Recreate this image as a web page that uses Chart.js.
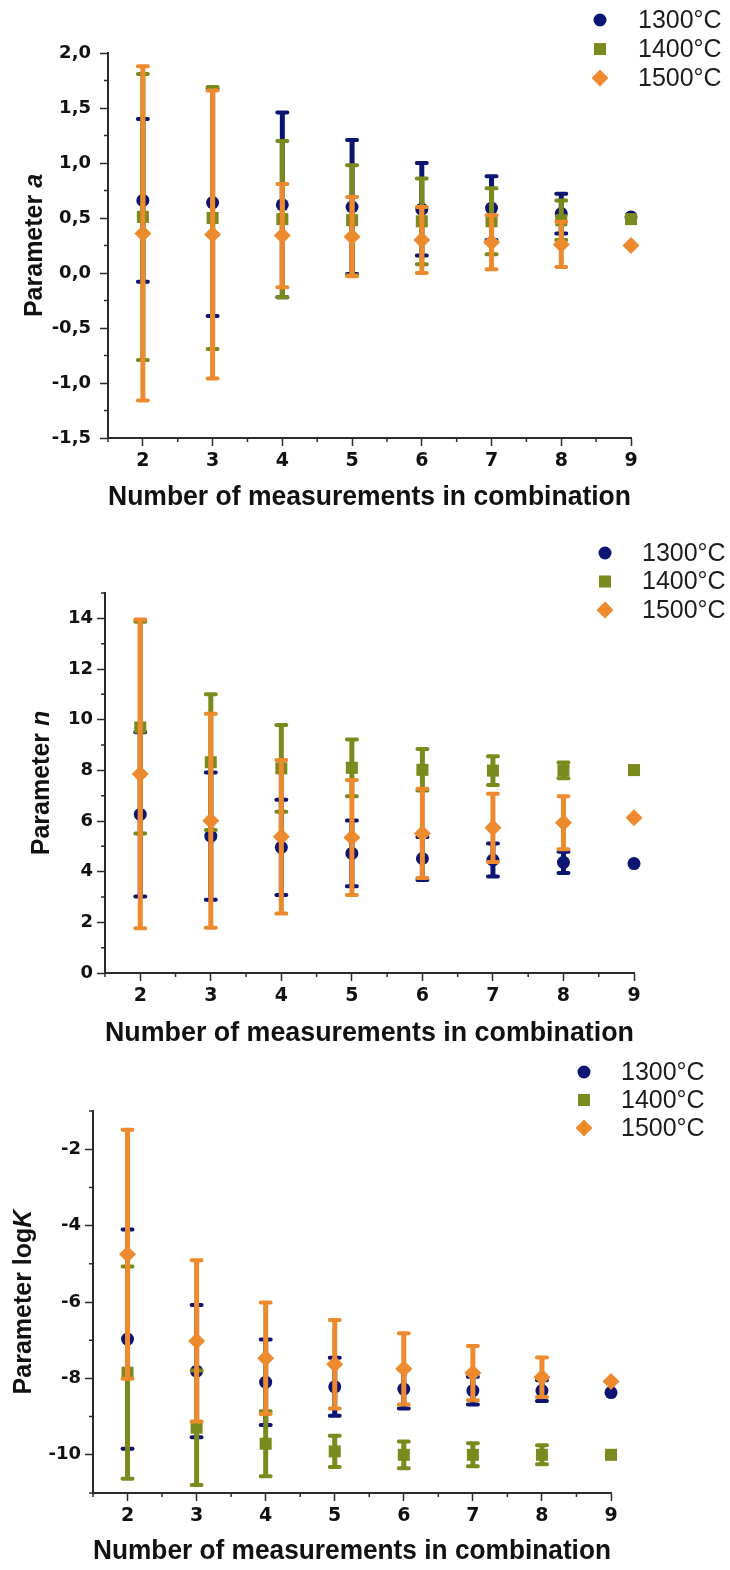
<!DOCTYPE html>
<html>
<head>
<meta charset="utf-8">
<script src="https://cdn.jsdelivr.net/npm/chart.js@4.4.1/dist/chart.umd.min.js"></script>
<style>
  html, body { margin: 0; padding: 0; background: #fff; }
  body { width: 730px; height: 1570px; position: relative; overflow: hidden; }
  .panel { position: absolute; left: 0; width: 730px; }
  #panelA { top: 0; height: 515px; }
  #panelN { top: 515px; height: 535px; }
  #panelK { top: 1050px; height: 520px; }
</style>
</head>
<body>
<div class="panel" id="panelA"><canvas id="chartA"></canvas></div>
<div class="panel" id="panelN"><canvas id="chartN"></canvas></div>
<div class="panel" id="panelK"><canvas id="chartK"></canvas></div>

<script>
// number of measurements used in each fitted combination
const measurementCounts = [2, 3, 4, 5, 6, 7, 8, 9];
const seriesLabels = ['1300°C', '1400°C', '1500°C'];

// Parameter a (mean and half-width of the error bar)
const a1300 = [0.66, 0.64, 0.62, 0.60, 0.58, 0.59, 0.54, 0.51];
const a1300Err = [0.74, 1.03, 0.84, 0.61, 0.42, 0.29, 0.18, 0];
const a1400 = [0.51, 0.50, 0.49, 0.48, 0.47, 0.47, 0.48, 0.49];
const a1400Err = [1.30, 1.19, 0.71, 0.50, 0.39, 0.30, 0.18, 0];
const a1500 = [0.36, 0.35, 0.34, 0.33, 0.30, 0.28, 0.26, 0.25];
const a1500Err = [1.52, 1.31, 0.47, 0.36, 0.30, 0.245, 0.205, 0];

// Parameter n
const n1300 = [6.26, 5.40, 4.96, 4.72, 4.52, 4.46, 4.37, 4.32];
const n1300Err = [3.24, 2.51, 1.88, 1.30, 0.85, 0.65, 0.42, 0];
const n1400 = [9.69, 8.32, 8.08, 8.10, 8.02, 7.99, 8.00, 8.01];
const n1400Err = [4.18, 2.68, 1.71, 1.12, 0.82, 0.57, 0.31, 0];
const n1500 = [7.86, 6.01, 5.38, 5.35, 5.51, 5.73, 5.93, 6.13];
const n1500Err = [6.09, 4.22, 3.03, 2.27, 1.76, 1.35, 1.05, 0];

// Parameter logK
const k1300 = [-6.97, -7.81, -8.10, -8.22, -8.28, -8.32, -8.32, -8.37];
const k1300Err = [2.87, 1.73, 1.12, 0.76, 0.51, 0.36, 0.27, 0];
const k1400 = [-7.85, -9.29, -9.71, -9.91, -10.0, -10.0, -10.0, -10.0];
const k1400Err = [2.78, 1.50, 0.85, 0.41, 0.35, 0.30, 0.25, 0];
const k1500 = [-4.75, -7.02, -7.47, -7.63, -7.75, -7.86, -7.97, -8.08];
const k1500Err = [3.26, 2.11, 1.46, 1.16, 0.93, 0.71, 0.52, 0];

const AXIS = '#2b2b2b';
const TEXT = '#111';
const FONT = '"Liberation Sans", Arial, sans-serif';
const TICK_FONT = '"DejaVu Sans", sans-serif';

const seriesStyle = [
    { color: '#0c1572', pointStyle: 'circle', radius: 6.5 },
    { color: '#7b8a1d', pointStyle: 'rect', radius: 8.5 },
    { color: '#ee8a2e', pointStyle: 'rectRot', radius: 8.5 }
];

function makeSet(i, means, errs) {
    const st = seriesStyle[i];
    return {
        label: seriesLabels[i],
        data: measurementCounts.map((x, j) => ({ x: x, y: means[j] })),
        errors: errs,
        backgroundColor: st.color,
        borderColor: st.color,
        borderWidth: 0,
        pointStyle: st.pointStyle,
        pointRadius: st.radius,
        order: 3 - i,   // later temperatures are painted on top
        clip: false
    };
}

// vertical error bars, drawn right before each dataset's markers
const errorBars = {
    id: 'errorBars',
    beforeDatasetDraw(chart, args) {
        const ds = chart.data.datasets[args.index];
        if (!ds.errors) return;
        const xs = chart.scales.x, ys = chart.scales.y, ctx = chart.ctx;
        ctx.save();
        ctx.strokeStyle = ds.backgroundColor;
        ds.data.forEach((pt, i) => {
            const e = ds.errors[i];
            if (!e) return;
            const px = xs.getPixelForValue(pt.x);
            const top = ys.getPixelForValue(pt.y + e);
            const bot = ys.getPixelForValue(pt.y - e);
            ctx.lineWidth = 5;
            ctx.lineCap = 'butt';
            ctx.beginPath();
            ctx.moveTo(px, top);
            ctx.lineTo(px, bot);
            ctx.stroke();
            ctx.lineWidth = 4;
            ctx.lineCap = 'round';
            ctx.beginPath();
            ctx.moveTo(px - 5, top); ctx.lineTo(px + 5, top);
            ctx.moveTo(px - 5, bot); ctx.lineTo(px + 5, bot);
            ctx.stroke();
        });
        ctx.restore();
    }
};

// short unlabelled ticks between the major ones
const minorTicks = {
    id: 'minorTicks',
    afterDraw(chart, args, opts) {
        const { ctx, chartArea } = chart;
        ctx.save();
        ctx.strokeStyle = AXIS;
        ctx.lineWidth = 1.5;
        ctx.beginPath();
        ['x', 'y'].forEach(id => {
            const scale = chart.scales[id];
            const step = opts[id];
            const majors = scale.ticks.map(t => t.value);
            const n = Math.round((scale.max - scale.min) / step);
            for (let k = 0; k <= n; k++) {
                const v = scale.min + k * step;
                if (majors.some(m => Math.abs(m - v) < step / 10)) continue;
                const p = scale.getPixelForValue(v);
                if (id === 'x') {
                    ctx.moveTo(p, chartArea.bottom);
                    ctx.lineTo(p, chartArea.bottom + 4);
                } else {
                    ctx.moveTo(chartArea.left, p);
                    ctx.lineTo(chartArea.left - 4, p);
                }
            }
        });
        ctx.stroke();
        ctx.restore();
    }
};

function markerPath(ctx, style, x, y, r) {
    ctx.beginPath();
    if (style === 'circle') {
        ctx.arc(x, y, r, 0, Math.PI * 2);
    } else if (style === 'rect') {
        const h = r * Math.SQRT1_2;
        ctx.rect(x - h, y - h, 2 * h, 2 * h);
    } else {
        ctx.moveTo(x, y - r);
        ctx.lineTo(x + r, y);
        ctx.lineTo(x, y + r);
        ctx.lineTo(x - r, y);
        ctx.closePath();
    }
}

// stacked legend in the top right corner
const sideLegend = {
    id: 'sideLegend',
    afterDraw(chart, args, opts) {
        const ctx = chart.ctx;
        ctx.save();
        ctx.font = '25px ' + FONT;
        ctx.textBaseline = 'middle';
        ctx.textAlign = 'left';
        chart.data.datasets.forEach((ds, i) => {
            const y = opts.top + i * opts.gap;
            ctx.fillStyle = ds.backgroundColor;
            markerPath(ctx, ds.pointStyle, opts.markerX, y, ds.pointRadius);
            ctx.fill();
            ctx.fillStyle = '#1c1c1c';
            ctx.fillText(ds.label, opts.textX, y + 1);
        });
        ctx.restore();
    }
};

// rotated y title with an italic symbol at the end
const axisTitleY = {
    id: 'axisTitleY',
    afterDraw(chart, args, opts) {
        const { ctx, chartArea } = chart;
        const plain = 'bold 25px ' + FONT;
        const ital = 'italic bold 25px ' + FONT;
        ctx.save();
        ctx.translate(opts.x, (chartArea.top + chartArea.bottom) / 2);
        ctx.rotate(-Math.PI / 2);
        ctx.fillStyle = TEXT;
        ctx.textBaseline = 'middle';
        ctx.textAlign = 'left';
        ctx.font = plain;
        const w1 = ctx.measureText(opts.text).width;
        ctx.font = ital;
        const w2 = ctx.measureText(opts.symbol).width;
        const x0 = -(w1 + w2) / 2;
        ctx.font = plain;
        ctx.fillText(opts.text, x0, 0);
        ctx.font = ital;
        ctx.fillText(opts.symbol, x0 + w1, 0);
        ctx.restore();
    }
};

// labelled ticks at every multiple of the step inside the axis range
const majorTicks = step => scale => {
    const ticks = [];
    const first = Math.ceil(scale.min / step - 1e-9);
    const last = Math.floor(scale.max / step + 1e-9);
    for (let k = first; k <= last; k++) {
        ticks.push({ value: +(k * step).toFixed(6) });
    }
    scale.ticks = ticks;
};

function buildChart(id, p) {
    return new Chart(document.getElementById(id), {
        type: 'scatter',
        data: { datasets: p.datasets },
        plugins: [errorBars, minorTicks, sideLegend, axisTitleY],
        options: {
            responsive: true,
            maintainAspectRatio: false,
            animation: false,
            layout: { padding: { left: 0, top: p.area.top, right: 730 - p.area.right, bottom: 0 } },
            scales: {
                x: {
                    type: 'linear',
                    min: 1.5,
                    max: 9,
                    afterBuildTicks: majorTicks(1),
                    afterFit: s => { s.height = p.height - p.area.bottom; },
                    ticks: { padding: 4, color: TEXT, font: { family: TICK_FONT, size: 19, weight: 'bold' } },
                    grid: { drawOnChartArea: false, tickLength: 8, tickColor: AXIS, tickWidth: 1.5 },
                    border: { color: AXIS, width: 2 },
                    title: {
                        display: true,
                        text: 'Number of measurements in combination',
                        color: TEXT,
                        font: { family: FONT, size: 28, weight: 'bold', lineHeight: 1.2 },
                        padding: { top: 0, bottom: p.titlePad }
                    }
                },
                y: {
                    min: p.yMin,
                    max: p.yMax,
                    afterBuildTicks: majorTicks(p.yStep),
                    afterFit: s => { s.width = p.area.left; },
                    ticks: { padding: p.yPad, color: TEXT, callback: p.yFormat,
                             font: { family: TICK_FONT, size: 18, weight: 'bold' } },
                    grid: { drawOnChartArea: false, tickLength: 8, tickColor: AXIS, tickWidth: 1.5 },
                    border: { color: AXIS, width: 2 }
                }
            },
            plugins: {
                legend: { display: false },
                tooltip: { enabled: false },
                minorTicks: { x: 0.5, y: p.yMinor },
                sideLegend: p.legend,
                axisTitleY: p.yTitle
            }
        }
    });
}

buildChart('chartA', {
    height: 515,
    area: { left: 108, right: 631, top: 53, bottom: 438 },
    titlePad: 1,
    yMin: -1.5, yMax: 2, yStep: 0.5, yMinor: 0.25, yPad: 9,
    yFormat: v => v.toFixed(1).replace('.', ','),
    legend: { markerX: 600, textX: 638, top: 20, gap: 29 },
    yTitle: { x: 35, text: 'Parameter ', symbol: 'a' },
    datasets: [makeSet(0, a1300, a1300Err), makeSet(1, a1400, a1400Err), makeSet(2, a1500, a1500Err)]
});

buildChart('chartN', {
    height: 535,
    area: { left: 105, right: 634, top: 78, bottom: 458 },
    titlePad: 0,
    yMin: 0, yMax: 15, yStep: 2, yMinor: 1, yPad: 4,
    yFormat: v => String(v),
    legend: { markerX: 605, textX: 642, top: 38, gap: 28.5 },
    yTitle: { x: 42, text: 'Parameter ', symbol: 'n' },
    datasets: [makeSet(0, n1300, n1300Err), makeSet(1, n1400, n1400Err), makeSet(2, n1500, n1500Err)]
});

buildChart('chartK', {
    height: 520,
    area: { left: 93, right: 611, top: 61, bottom: 443 },
    titlePad: 2,
    yMin: -11, yMax: -1, yStep: 2, yMinor: 1, yPad: 4,
    yFormat: v => String(v),
    legend: { markerX: 584, textX: 621, top: 22, gap: 28 },
    yTitle: { x: 24, text: 'Parameter log', symbol: 'K' },
    datasets: [makeSet(0, k1300, k1300Err), makeSet(1, k1400, k1400Err), makeSet(2, k1500, k1500Err)]
});
</script>
</body>
</html>
